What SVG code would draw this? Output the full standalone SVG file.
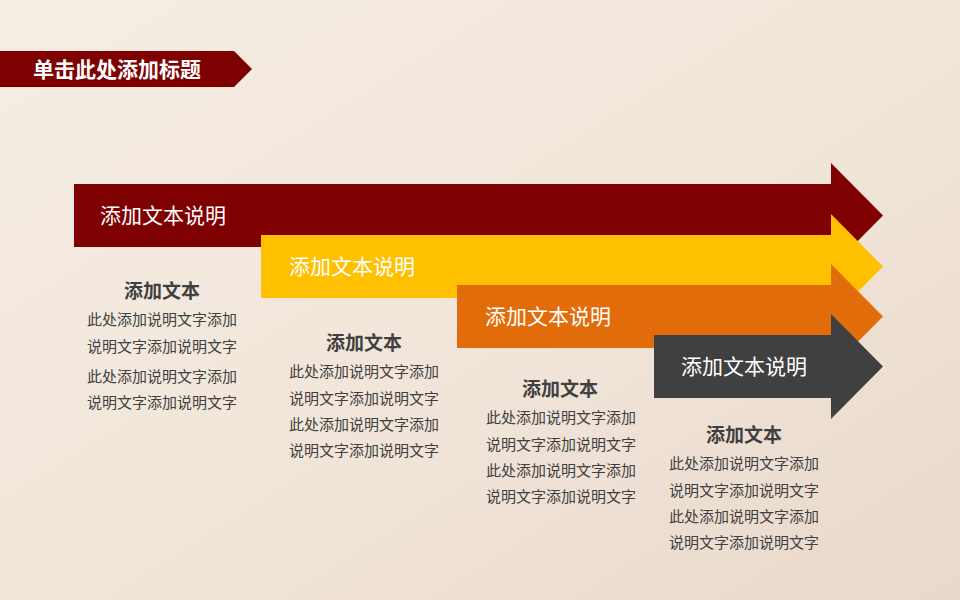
<svg xmlns="http://www.w3.org/2000/svg" width="960" height="600" viewBox="0 0 960 600">
<defs>
<linearGradient id="bg" x1="0" y1="0" x2="1" y2="1">
<stop offset="0" stop-color="#f5ede4"/>
<stop offset="0.5" stop-color="#f2e6da"/>
<stop offset="1" stop-color="#e9d8cc"/>
</linearGradient>
<style>
text{font-family:"Microsoft YaHei","Noto Sans CJK SC",sans-serif}
.lbl{font-size:21px;fill:#ffffff}
.hd{font-size:19px;font-weight:bold;fill:#404040;text-anchor:middle}
.bd{font-size:15px;fill:#404040}
</style>
</defs>
<rect width="960" height="600" fill="url(#bg)"/>
<g id="title">
<polygon points="0,51 234,51 252,69 234,87 0,87" fill="#7f0000"/>
<text x="33" y="77" font-size="21" font-weight="bold" fill="#ffffff">单击此处添加标题</text>
</g>
<g id="arrow1">
<polygon points="74,184 831,184 831,163 883,215.5 831,268 831,247 74,247" fill="#7f0000"/>
<text class="lbl" x="100" y="223">添加文本说明</text>
</g>
<g id="arrow2">
<polygon points="261,235 831,235 831,214 883,266.5 831,319 831,298 261,298" fill="#ffc000"/>
<text class="lbl" x="289" y="274">添加文本说明</text>
</g>
<g id="arrow3">
<polygon points="457,285 831,285 831,264 883,316.5 831,369 831,348 457,348" fill="#e36c0a"/>
<text class="lbl" x="485" y="324">添加文本说明</text>
</g>
<g id="arrow4">
<polygon points="654,335 831,335 831,314 883,366.5 831,419 831,398 654,398" fill="#404040"/>
<text class="lbl" x="681" y="374">添加文本说明</text>
</g>
<g id="col1">
<text class="hd" x="162" y="298">添加文本</text>
<text class="bd" x="87" y="325">此处添加说明文字添加</text>
<text class="bd" x="87" y="352">说明文字添加说明文字</text>
<text class="bd" x="87" y="382">此处添加说明文字添加</text>
<text class="bd" x="87" y="408">说明文字添加说明文字</text>
</g>
<g id="col2">
<text class="hd" x="364" y="350">添加文本</text>
<text class="bd" x="289" y="377">此处添加说明文字添加</text>
<text class="bd" x="289" y="404">说明文字添加说明文字</text>
<text class="bd" x="289" y="430">此处添加说明文字添加</text>
<text class="bd" x="289" y="456">说明文字添加说明文字</text>
</g>
<g id="col3">
<text class="hd" x="560" y="396">添加文本</text>
<text class="bd" x="486" y="423">此处添加说明文字添加</text>
<text class="bd" x="486" y="450">说明文字添加说明文字</text>
<text class="bd" x="486" y="476">此处添加说明文字添加</text>
<text class="bd" x="486" y="502">说明文字添加说明文字</text>
</g>
<g id="col4">
<text class="hd" x="744" y="442">添加文本</text>
<text class="bd" x="669" y="469">此处添加说明文字添加</text>
<text class="bd" x="669" y="496">说明文字添加说明文字</text>
<text class="bd" x="669" y="522">此处添加说明文字添加</text>
<text class="bd" x="669" y="548">说明文字添加说明文字</text>
</g>
</svg>
